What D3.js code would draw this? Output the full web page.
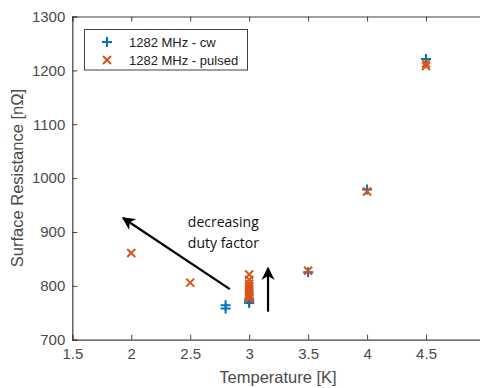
<!DOCTYPE html>
<html>
<head>
<meta charset="utf-8">
<script src="https://cdn.jsdelivr.net/npm/d3@7"></script>
<style>
  body { margin: 0; background: #fff; }
  svg text { font-family: "Liberation Sans", Arial, sans-serif; }
</style>
</head>
<body>
<svg id="chart" width="480" height="388"></svg>
<script>
// data
const cwT = [2.8, 2.8, 3.0, 3.0, 3.0, 3.5, 4.0, 4.5];
const cwR = [758, 764, 768, 772, 776, 825, 979, 1221];
const pulsedT = [2.0, 2.5, 3.0, 3.0, 3.0, 3.0, 3.0, 3.0, 3.0, 3.0, 3.0, 3.0, 3.5, 4.0, 4.5, 4.5];
const pulsedR = [861, 806, 821, 811, 804, 799, 795, 790, 786, 782, 779, 776, 828, 975, 1208, 1213];
const xTicks = [1.5, 2, 2.5, 3, 3.5, 4, 4.5];
const yTicks = [700, 800, 900, 1000, 1100, 1200, 1300];
const seriesNames = ["1282 MHz - cw", "1282 MHz - pulsed"];
const annotation = ["decreasing", "duty factor"];

const blue = "#0072BD", orange = "#D95319", axisColor = "#404040";

const svg = d3.select("svg#chart");
const x = d3.scaleLinear().domain([1.5, 5]).range([72.3, 485]);
const y = d3.scaleLinear().domain([700, 1300]).range([339.7, 16.5]);

// axes
const gx = svg.append("g")
    .attr("transform", "translate(0," + y(700) + ")")
    .call(d3.axisBottom(x).tickValues(xTicks).tickSize(-5).tickPadding(9)
      .tickFormat(d3.format("")));
const gxTop = svg.append("g")
    .attr("transform", "translate(0," + y(1300) + ")")
    .call(d3.axisTop(x).tickValues(xTicks).tickSize(-5).tickFormat(""));
const gy = svg.append("g")
    .attr("transform", "translate(" + x(1.5) + ",0)")
    .call(d3.axisLeft(y).tickValues(yTicks).tickSize(-5).tickPadding(7)
      .tickFormat(d3.format("d")));

[gx, gxTop, gy].forEach(g => {
  g.select(".domain").attr("stroke", axisColor).attr("stroke-width", 1.2);
  g.selectAll(".tick line").attr("stroke", axisColor);
  g.selectAll(".tick text").attr("fill", "#4a4a4a").style("font-size", "15px");
});

svg.append("text")
    .attr("x", 278).attr("y", 383)
    .attr("text-anchor", "middle")
    .attr("fill", "#4a4a4a")
    .style("font-size", "16.5px")
    .text("Temperature [K]");

svg.append("text")
    .attr("transform", "translate(23," + 178 + ") rotate(-90)")
    .attr("text-anchor", "middle")
    .attr("fill", "#4a4a4a")
    .style("font-size", "16.5px")
    .text("Surface Resistance [n\u03A9]");

// markers
const s = 5;
function plus(g, cx, cy, color) {
  g.append("path")
    .attr("d", "M" + (cx - s) + "," + cy + "H" + (cx + s) + "M" + cx + "," + (cy - s) + "V" + (cy + s))
    .attr("stroke", color).attr("stroke-width", 2).attr("fill", "none");
}
function cross(g, cx, cy, color) {
  const k = s * 0.8;
  g.append("path")
    .attr("d", "M" + (cx - k) + "," + (cy - k) + "L" + (cx + k) + "," + (cy + k) +
               "M" + (cx - k) + "," + (cy + k) + "L" + (cx + k) + "," + (cy - k))
    .attr("stroke", color).attr("stroke-width", 2).attr("fill", "none");
}

const marks = svg.append("g");
cwT.forEach((t, i) => plus(marks, x(t), y(cwR[i]), blue));
pulsedT.forEach((t, i) => cross(marks, x(t), y(pulsedR[i]), orange));

// arrows
svg.append("defs").append("marker")
    .attr("id", "head")
    .attr("viewBox", "0 0 10 10")
    .attr("refX", 9).attr("refY", 5)
    .attr("markerWidth", 6).attr("markerHeight", 6)
    .attr("orient", "auto")
  .append("path")
    .attr("d", "M0,0 L10,5 L0,10 L3,5 Z")
    .attr("fill", "#000");

const arrows = [
  { x1: 2.836, y1: 794, x2: 1.93, y2: 926 },
  { x1: 3.16, y1: 752, x2: 3.16, y2: 833 }
];
arrows.forEach(a => {
  svg.append("line")
    .attr("x1", x(a.x1)).attr("y1", y(a.y1))
    .attr("x2", x(a.x2)).attr("y2", y(a.y2))
    .attr("stroke", "#000").attr("stroke-width", 2.2)
    .attr("marker-end", "url(#head)");
});

annotation.forEach((t, i) => {
  svg.append("text")
    .attr("x", x(2.48)).attr("y", 227 + i * 21)
    .style("font-family", "'Open Sans', sans-serif")
    .style("font-size", "14px")
    .attr("fill", "#111")
    .text(t);
});

// legend
const legend = svg.append("g");
legend.append("rect")
    .attr("x", 84.5).attr("y", 29.5).attr("width", 163).attr("height", 40.5)
    .attr("fill", "#fff").attr("stroke", axisColor).attr("stroke-width", 1);
plus(legend, 107, 42, blue);
cross(legend, 107, 60, orange);
seriesNames.forEach((n, i) => {
  legend.append("text")
    .attr("x", 129).attr("y", 47 + i * 18)
    .attr("fill", "#222")
    .style("font-size", "13px")
    .text(n);
});
</script>
</body>
</html>
